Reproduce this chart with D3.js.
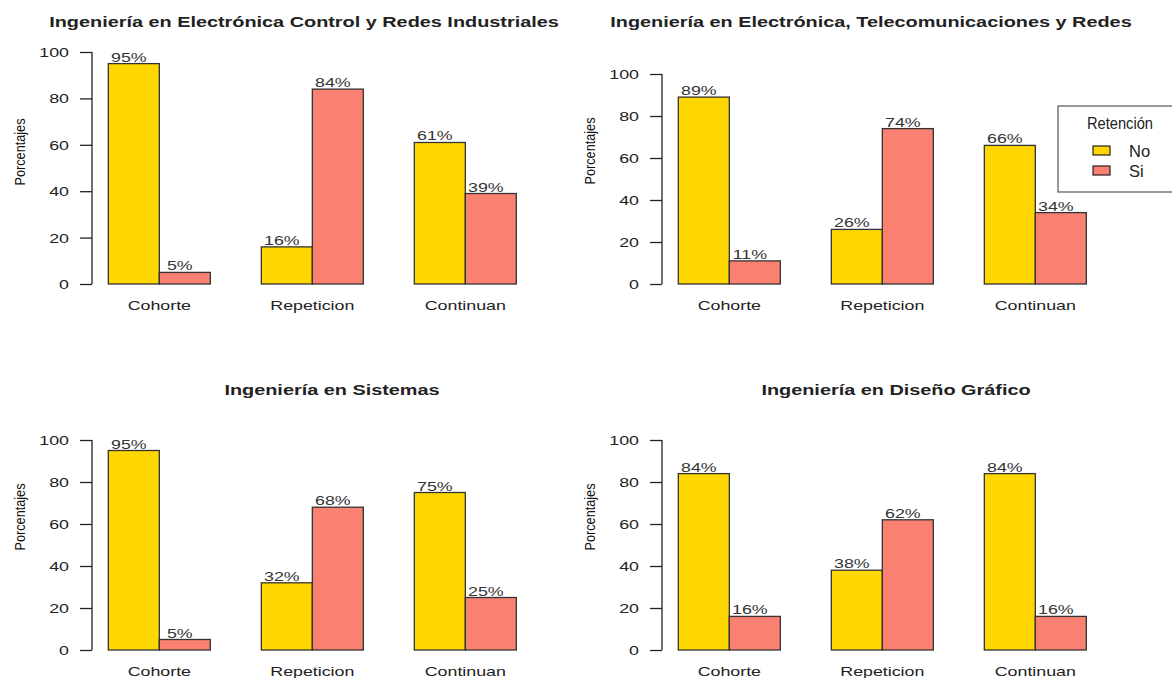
<!DOCTYPE html>
<html>
<head>
<meta charset="utf-8">
<script src="https://cdn.jsdelivr.net/npm/d3@7/dist/d3.min.js"></script>
<style>
  html, body { margin: 0; padding: 0; background: #fff; }
  svg { display: block; }
  text { font-family: "Liberation Sans", Arial, sans-serif; fill: #222; }
</style>
</head>
<body>
<svg id="chart" width="1172" height="678"></svg>
<script>
// ---- data ----
const categories = ["Cohorte", "Repeticion", "Continuan"];
const seriesNames = ["No", "Si"];
const legendTitle = "Retención";
const yTicks = [0, 20, 40, 60, 80, 100];
const yLabel = "Porcentajes";

const titles = [
  "Ingeniería en Electrónica Control y Redes Industriales",
  "Ingeniería en Electrónica, Telecomunicaciones y Redes",
  "Ingeniería en Sistemas",
  "Ingeniería en Diseño Gráfico"
];
const noValues = [
  [95, 16, 61],
  [89, 26, 66],
  [95, 32, 75],
  [84, 38, 84]
];
const siValues = [
  [5, 84, 39],
  [11, 74, 34],
  [5, 68, 25],
  [16, 62, 16]
];

// ---- layout (positions only) ----
const colors = ["#FFD700", "#FA8072"];
const layouts = [
  { axisX: 92,  y0: 284, y100: 52,  titleX: 304, titleY: 27,  ylabX: 25,  ylabY: 152 },
  { axisX: 662, y0: 284, y100: 74,  titleX: 871, titleY: 27,  ylabX: 595, ylabY: 151 },
  { axisX: 92,  y0: 650, y100: 440, titleX: 332, titleY: 395, ylabX: 25,  ylabY: 517 },
  { axisX: 662, y0: 650, y100: 440, titleX: 896, titleY: 395, ylabX: 595, ylabY: 517 }
];
const unitPx = 51;
const hs = 1.37; // horizontal stretch of the regular-font texts

function stretch(sel, fx, fy) {
  sel.attr("x", null).attr("y", null)
     .attr("transform", (d, i) => `translate(${fx(d, i)},${fy(d, i)}) scale(${hs},1)`);
}

const svg = d3.select("#chart");

titles.forEach((title, p) => {
  const L = layouts[p];
  const g = svg.append("g");
  // R barplot: bars of width 1, space c(0,1) -> x from 1 to 9, usr extends 4%
  const x = d3.scaleLinear().domain([0.68, 9.32]).range([L.axisX, L.axisX + 8.64 * unitPx]);
  const y = d3.scaleLinear().domain([0, 100]).range([L.y0, L.y100]);

  const rows = [];
  categories.forEach((c, i) => {
    [noValues[p][i], siValues[p][i]].forEach((v, j) => {
      rows.push({ cat: c, s: j, v: v, left: 1 + i * 3 + j });
    });
  });

  g.selectAll("rect.bar").data(rows).enter().append("rect")
    .attr("class", "bar")
    .attr("x", d => x(d.left))
    .attr("width", d => x(d.left + 1) - x(d.left))
    .attr("y", d => y(d.v))
    .attr("height", d => y(0) - y(d.v))
    .attr("fill", d => colors[d.s])
    .attr("stroke", "#333")
    .attr("stroke-width", 1.3);

  g.selectAll("text.val").data(rows).enter().append("text")
    .attr("class", "val")
    .attr("text-anchor", "middle")
    .style("font-size", "13px")
    .style("fill", "#333")
    .text(d => d.v + "%")
    .call(stretch, d => (x(d.left) + x(d.left + 1)) / 2 - 5, d => y(d.v) - 2);

  // y axis (R style: line from first to last tick)
  const axis = d3.axisLeft(y).tickValues(yTicks).tickSize(12).tickPadding(8).tickFormat(d3.format("d"));
  const ag = g.append("g").attr("transform", `translate(${L.axisX},0)`).call(axis);
  ag.select(".domain").attr("d", `M0,${y(0)}V${y(100)}`).attr("stroke", "#222").attr("stroke-width", 1.3);
  ag.selectAll(".tick line").attr("stroke", "#222").attr("stroke-width", 1.3);
  ag.selectAll(".tick text")
    .style("font-size", "13px")
    .style("font-family", "'Liberation Sans', Arial, sans-serif")
    .attr("fill", "#222")
    .attr("dy", null)
    .call(stretch, () => -23, () => 4.5);

  // category labels
  g.selectAll("text.cat").data(categories).enter().append("text")
    .attr("class", "cat")
    .attr("text-anchor", "middle")
    .style("font-size", "13px")
    .text(d => d)
    .call(stretch, (d, i) => x(2 + i * 3), () => L.y0 + 26);

  // title
  g.append("text")
    .attr("text-anchor", "middle")
    .style("font-size", "14.5px").style("font-weight", "bold")
    .text(title)
    .call(stretch, () => L.titleX, () => L.titleY);

  // y label (condensed)
  g.append("text")
    .attr("transform", `translate(${L.ylabX},${L.ylabY}) rotate(-90)`)
    .attr("text-anchor", "middle")
    .attr("textLength", 67)
    .attr("lengthAdjust", "spacingAndGlyphs")
    .style("font-size", "15.5px")
    .style("fill", "#111")
    .text(yLabel);
});

// legend
const lg = svg.append("g");
lg.append("rect").attr("x", 1058).attr("y", 106).attr("width", 130).attr("height", 86)
  .attr("fill", "#fff").attr("stroke", "#555").attr("stroke-width", 1.2);
lg.append("text").attr("x", 1120).attr("y", 129).attr("text-anchor", "middle")
  .attr("textLength", 66).attr("lengthAdjust", "spacingAndGlyphs")
  .style("font-size", "16px").text(legendTitle);
seriesNames.forEach((s, i) => {
  lg.append("rect").attr("x", 1093).attr("y", 146 + i * 20).attr("width", 17).attr("height", 9)
    .attr("fill", colors[i]).attr("stroke", "#222").attr("stroke-width", 1.2);
  lg.append("text").attr("x", 1129).attr("y", 157 + i * 20)
    .style("font-family", "'Liberation Sans Narrow', 'Arial Narrow', sans-serif")
    .style("font-size", "16.5px").text(s);
});
</script>
</body>
</html>
